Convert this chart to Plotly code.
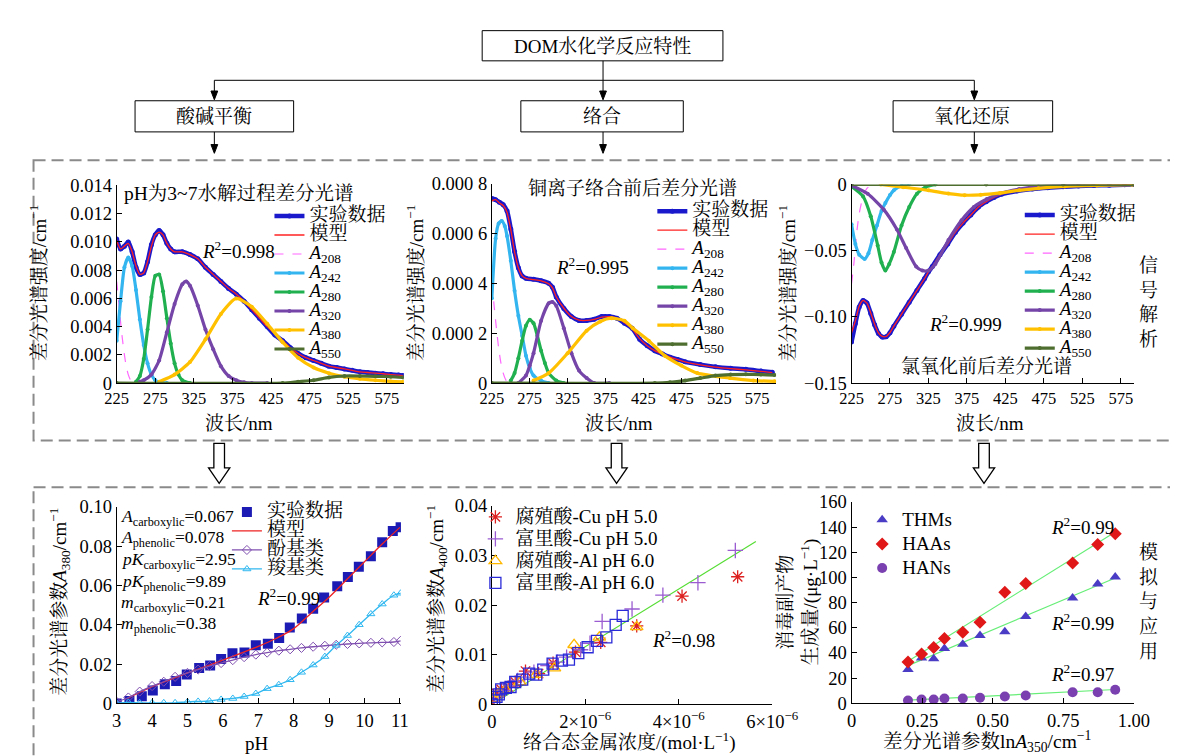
import plotly.graph_objects as go

W, H = 1178, 756
FONT = "Liberation Serif, 'Noto Serif CJK SC', 'Noto Sans CJK SC', serif"

# ---------------- data: top-left (pH 3~7 hydrolysis) ----------------
p1_wl = [225,230,235,240,245,250,255,260,265,270,275,280,285,290,295,300,310,320,330,340,350,360,370,380,390,400,410,420,430,440,450,460,470,480,490,500,510,520,530,540,550,560,570,580,590,596]
p1_exp = [0.0102,0.0095,0.0097,0.0100,0.0093,0.0082,0.0077,0.0078,0.0086,0.0098,0.0105,0.0108,0.0105,0.0099,0.0095,0.0093,0.0093,0.0091,0.0088,0.0082,0.0077,0.0072,0.0067,0.0063,0.0058,0.0052,0.0046,0.0040,0.0034,0.0030,0.0025,0.0021,0.0018,0.0016,0.0014,0.0012,0.0011,0.0010,0.0009,0.0008,0.00075,0.0007,0.00066,0.0006,0.00057,0.00053]
p1_model = [0.0101,0.0095,0.0097,0.0099,0.0093,0.0083,0.0077,0.0078,0.0086,0.0097,0.0105,0.0107,0.0105,0.0099,0.0095,0.0093,0.0093,0.0091,0.0088,0.0082,0.0077,0.0072,0.0067,0.0063,0.0058,0.0052,0.0046,0.0040,0.0035,0.0030,0.0025,0.0021,0.0018,0.0016,0.0014,0.0012,0.0011,0.0010,0.0009,0.0008,0.00075,0.0007,0.00066,0.0006,0.00057,0.00053]
p1_a208_wl = [225,228,231,234,237,240,243,246,250]
p1_a208 = [0.0072,0.0055,0.0038,0.0024,0.0013,0.0006,0.0002,0.00005,0.0]
p1_a242_wl = [225,230,235,240,245,250,255,260,265,270,275,280,285,290]
p1_a242 = [0.0030,0.0058,0.0082,0.0089,0.0083,0.0066,0.0045,0.0027,0.0014,0.0006,0.0002,0.00005,0.0,0.0]
p1_a280_wl = [250,255,260,265,270,275,280,285,290,295,300,305,310,320]
p1_a280 = [0.0001,0.0005,0.0017,0.0038,0.0061,0.0076,0.0077,0.0065,0.0046,0.0028,0.0014,0.0006,0.0002,0.0]
p1_a320_wl = [255,260,270,280,290,300,310,315,320,330,340,350,360,370,380,390,400,420]
p1_a320 = [0.0001,0.0002,0.0006,0.0016,0.0036,0.0056,0.0070,0.0072,0.0069,0.0055,0.0038,0.0024,0.0012,0.0005,0.0002,0.00005,0.0,0.0]
p1_a380_wl = [280,300,320,340,360,380,400,420,440,460,480,500,520,540,560,580,596]
p1_a380 = [0.0001,0.0006,0.0015,0.0031,0.0049,0.0060,0.0054,0.0042,0.0029,0.0018,0.0011,0.0007,0.00045,0.0003,0.0002,0.00012,0.00008]
p1_a550_wl = [225,440,460,480,500,520,540,560,580,596]
p1_a550 = [0.0,0.0,0.0001,0.0002,0.0004,0.0005,0.0005,0.00048,0.00045,0.0004]

# ---------------- data: top-middle (Cu complexation) ----------------
p2_wl = [225,230,235,240,245,250,255,260,265,270,280,290,300,305,310,320,330,340,350,360,370,380,390,400,410,420,430,440,450,460,470,480,500,520,540,560,580,595]
p2_exp = [0.00074,0.000735,0.000725,0.000715,0.00069,0.000618,0.000527,0.000462,0.000429,0.00042,0.000416,0.00041,0.0004,0.000384,0.000345,0.000299,0.000267,0.000251,0.000251,0.000256,0.000267,0.000267,0.00026,0.00024,0.00022,0.000176,0.00015,0.00013,0.000117,0.000104,0.000095,0.000085,0.000074,0.000065,0.000059,0.000055,0.000048,0.000043]
p2_model = [0.00073,0.000735,0.000722,0.000712,0.000685,0.000615,0.000525,0.000462,0.00043,0.00042,0.000415,0.00041,0.000398,0.000382,0.000345,0.0003,0.000267,0.000252,0.000251,0.000255,0.000264,0.000266,0.00026,0.000242,0.000218,0.000178,0.00015,0.00013,0.000116,0.000104,0.000094,0.000085,0.000073,0.000064,0.000058,0.000053,0.000047,0.000042]
p2_a208_wl = [225,228,231,234,237,240,244,248]
p2_a208 = [0.00040,0.00031,0.00022,0.00014,0.00008,0.00004,0.00001,0.0]
p2_a242_wl = [225,230,234,238,242,245,250,255,260,265,270,275,280,290,300]
p2_a242 = [0.00034,0.00058,0.00064,0.00065,0.00063,0.00059,0.00049,0.00037,0.00027,0.00019,0.00011,0.00006,0.00003,0.00001,0.0]
p2_a280_wl = [250,255,260,265,270,275,280,285,290,295,300,310,320]
p2_a280 = [0.00001,0.00004,0.0001,0.00017,0.00023,0.000254,0.00024,0.00019,0.00013,0.00008,0.00004,0.00001,0.0]
p2_a320_wl = [260,270,275,280,290,300,305,310,320,330,340,350,360,380]
p2_a320 = [0.0,0.00003,0.00007,0.00012,0.00025,0.00032,0.000325,0.00031,0.00022,0.00012,0.00005,0.00002,0.0,0.0]
p2_a380_wl = [280,300,325,350,368,383,400,411,432,453,475,496,539,570,598]
p2_a380 = [0.00001,0.00004,0.00012,0.00021,0.000247,0.00026,0.00025,0.00022,0.00017,0.00011,0.00007,0.00004,0.00002,0.00001,0.000007]
p2_a550_wl = [225,440,460,480,500,520,540,560,580,598]
p2_a550 = [0.0,0.0,0.000003,0.00001,0.00002,0.00003,0.000034,0.000035,0.000034,0.000032]

# ---------------- data: top-right (chlorination) ----------------
p3_wl = [225,230,235,240,245,250,255,260,265,270,275,280,290,300,310,320,325,330,340,350,360,370,380,390,400,410,420,440,460,480,500,520,540,560,580,592]
p3_exp = [-0.119,-0.105,-0.0925,-0.0876,-0.0896,-0.0974,-0.106,-0.1125,-0.1152,-0.115,-0.112,-0.107,-0.098,-0.089,-0.080,-0.071,-0.066,-0.062,-0.053,-0.045,-0.036,-0.029,-0.023,-0.017,-0.013,-0.0098,-0.0073,-0.0049,-0.0034,-0.0024,-0.0017,-0.0012,-0.0007,-0.0005,-0.0002,-0.0001]
p3_model = [-0.112,-0.103,-0.092,-0.0876,-0.0896,-0.097,-0.1055,-0.112,-0.1148,-0.1148,-0.1118,-0.107,-0.098,-0.089,-0.080,-0.071,-0.066,-0.062,-0.053,-0.045,-0.036,-0.029,-0.023,-0.017,-0.013,-0.0098,-0.0073,-0.0049,-0.0034,-0.0024,-0.0017,-0.0012,-0.0007,-0.0005,-0.0002,-0.0001]
p3_a208_wl = [225,228,232,235,240,245,250,256]
p3_a208 = [-0.075,-0.060,-0.035,-0.022,-0.009,-0.003,-0.001,0.0]
p3_a242_wl = [225,230,235,242,247,252,258,264,269,275,280,290,300]
p3_a242 = [-0.030,-0.045,-0.053,-0.0563,-0.052,-0.042,-0.031,-0.020,-0.014,-0.008,-0.0044,-0.001,0.0]
p3_a280_wl = [225,240,250,259,264,269,274,280,290,300,310,321,334]
p3_a280 = [-0.0015,-0.009,-0.024,-0.046,-0.059,-0.065,-0.060,-0.051,-0.031,-0.017,-0.007,-0.002,0.0]
p3_a320_wl = [225,246,267,284,296,309,317,325,334,351,368,384,401,418,443,468,502,544]
p3_a320 = [-0.0007,-0.007,-0.019,-0.034,-0.048,-0.062,-0.065,-0.065,-0.060,-0.042,-0.027,-0.017,-0.011,-0.0068,-0.0035,-0.0015,-0.0005,0.0]
p3_a380_wl = [263,292,325,351,372,393,418,443,468,502,544,590]
p3_a380 = [0.0,-0.002,-0.0044,-0.0069,-0.0081,-0.0078,-0.0064,-0.0044,-0.0029,-0.0015,-0.0007,-0.0002]
p3_a550_wl = [225,400,500,592]
p3_a550 = [0.0,0.0,0.0,0.0]

# ---------------- data: bottom-left (pH titration) ----------------
ph_exp = [3.0,3.36,3.71,4.02,4.36,4.68,4.98,5.33,5.64,5.95,6.27,6.61,6.93,7.27,7.59,7.89,8.23,8.55,8.86,9.23,9.53,9.84,10.18,10.5,10.8,11.02]
a380_exp = [0.0,0.0012,0.0036,0.0066,0.0097,0.0114,0.0147,0.018,0.0193,0.0226,0.0255,0.0259,0.0295,0.0303,0.0333,0.0386,0.0432,0.0481,0.0539,0.0596,0.0643,0.0695,0.0748,0.0819,0.0876,0.0896]
ph_model = [3.3,4.0,5.0,6.0,7.0,7.5,8.0,8.5,9.0,9.5,10.0,10.5,11.0]
a380_model = [0.0025,0.0085,0.0155,0.022,0.029,0.033,0.038,0.046,0.054,0.063,0.072,0.081,0.0895]
ph_comp = [3.0,3.33,3.65,4.0,4.33,4.65,5.0,5.3,5.62,5.95,6.28,6.6,6.93,7.25,7.58,7.9,8.22,8.55,8.88,9.2,9.52,9.85,10.18,10.5,10.83,11.02]
phenolic = [0.0008,0.003,0.006,0.0088,0.011,0.0135,0.0155,0.0172,0.019,0.0205,0.022,0.0235,0.0248,0.0258,0.0268,0.0275,0.0282,0.0288,0.0293,0.0298,0.0302,0.0305,0.0308,0.031,0.0312,0.0318]
carboxylic = [0.0,0.0005,0.0003,0.0003,0.0003,0.0003,0.0008,0.001,0.0012,0.002,0.0025,0.0035,0.005,0.0075,0.0095,0.012,0.0158,0.0195,0.0238,0.0295,0.0345,0.04,0.0455,0.0505,0.055,0.056]
ph_params = ["<i>A</i><sub>carboxylic</sub>=0.067", "<i>A</i><sub>phenolic</sub>=0.078",
             "<i>pK</i><sub>carboxylic</sub>=2.95", "<i>pK</i><sub>phenolic</sub>=9.89",
             "<i>m</i><sub>carboxylic</sub>=0.21", "<i>m</i><sub>phenolic</sub>=0.38"]

# ---------------- data: bottom-middle (metal complexation) ----------------
ha_cu_x = [0.0,0.1e-6,0.2e-6,0.35e-6,0.5e-6,0.72e-6,1.0e-6,1.31e-6,1.79e-6,2.33e-6,3.1e-6,4.07e-6,5.26e-6]
ha_cu_y = [0.0005,0.0022,0.003,0.0035,0.0045,0.0067,0.0062,0.0083,0.0105,0.0125,0.0158,0.0218,0.0257]
fa_cu_x = [0.05e-6,0.15e-6,0.25e-6,0.4e-6,0.55e-6,0.7e-6,0.9e-6,1.2e-6,1.4e-6,1.6e-6,1.9e-6,2.1e-6,2.36e-6,3.0e-6,3.66e-6,4.41e-6,5.21e-6]
fa_cu_y = [0.001,0.002,0.0028,0.0038,0.0048,0.0055,0.0065,0.0078,0.0085,0.0095,0.011,0.0123,0.0167,0.0192,0.022,0.0245,0.031]
ha_al_x = [0.05e-6,0.15e-6,0.3e-6,0.6e-6,0.95e-6,1.34e-6,1.76e-6,2.3e-6,3.1e-6]
ha_al_y = [0.001,0.0022,0.003,0.0045,0.006,0.0073,0.012,0.0135,0.0156]
fa_al_x = [0.0,0.05e-6,0.1e-6,0.15e-6,0.2e-6,0.3e-6,0.4e-6,0.5e-6,0.65e-6,0.8e-6,0.95e-6,1.1e-6,1.3e-6,1.5e-6,1.65e-6,1.85e-6,2.05e-6,2.25e-6,2.45e-6,2.65e-6,2.8e-6]
fa_al_y = [0.0,0.0008,0.0015,0.002,0.003,0.0033,0.0035,0.0045,0.005,0.0062,0.006,0.007,0.0082,0.0088,0.009,0.0103,0.0115,0.0128,0.0135,0.016,0.0178]
fit_x = [0.0, 5.65e-6]
fit_y = [0.0, 0.0328]

# ---------------- data: bottom-right (DBPs) ----------------
lnA350 = [0.20,0.248,0.291,0.329,0.394,0.455,0.543,0.617,0.783,0.872,0.934]
thms = [26.8,36.1,35.4,43.6,47.0,53.9,56.8,68.9,83.6,94.7,100.4]
haas = [32.8,39.2,44.4,51.6,56.5,64.5,88.3,95.2,111.5,126.2,134.7]
hans = [2.3,3.1,3.1,3.9,3.9,4.4,5.4,6.2,8.8,8.8,10.8]
fit_ln = [0.20, 0.934]
thms_fit = [30.0, 99.5]
haas_fit = [33.5, 136.0]
hans_fit = [2.5, 11.0]

# ---------------- helpers ----------------
def PX(x): return x / W
def PY(y): return 1 - y / H

def big(t, size=19):
    return '<span style="font-size:%dpx">%s</span>' % (size, t)

fig = go.Figure()

def comp(x, y, name, color, xa, ya, leg, width=3, msize=3, dash=None, mode='lines+markers'):
    fig.add_trace(go.Scatter(x=x, y=y, name=big(name), mode=mode, xaxis=xa, yaxis=ya, legend=leg,
                             line=dict(color=color, width=width, shape='spline', smoothing=0.6, dash=dash),
                             marker=dict(size=msize, color=color)))

SUBN = lambda n: "<i>A</i><sub>%s</sub>" % n
C_EXP, C_MOD, C208, C242, C280, C320, C380, C550 = '#1a1acc', '#ff2222', '#ff66ff', '#33b5f0', '#20b050', '#7545a8', '#ffc000', '#4e6e30'

# top plots
for (wl, ex, mo, comps, xa, ya, leg) in [
    (p1_wl, p1_exp, p1_model, [(p1_a208_wl, p1_a208), (p1_a242_wl, p1_a242), (p1_a280_wl, p1_a280), (p1_a320_wl, p1_a320), (p1_a380_wl, p1_a380), (p1_a550_wl, p1_a550)], 'x', 'y', 'legend'),
    (p2_wl, p2_exp, p2_model, [(p2_a208_wl, p2_a208), (p2_a242_wl, p2_a242), (p2_a280_wl, p2_a280), (p2_a320_wl, p2_a320), (p2_a380_wl, p2_a380), (p2_a550_wl, p2_a550)], 'x2', 'y2', 'legend2'),
    (p3_wl, p3_exp, p3_model, [(p3_a208_wl, p3_a208), (p3_a242_wl, p3_a242), (p3_a280_wl, p3_a280), (p3_a320_wl, p3_a320), (p3_a380_wl, p3_a380), (p3_a550_wl, p3_a550)], 'x3', 'y3', 'legend3')]:
    comp(wl, ex, "实验数据", C_EXP, xa, ya, leg, width=4.5, msize=5)
    comp(wl, mo, "模型", C_MOD, xa, ya, leg, width=1.3, mode='lines')
    names = ["208", "242", "280", "320", "380", "550"]
    cols = [C208, C242, C280, C320, C380, C550]
    for i, ((cx, cy), n, c) in enumerate(zip(comps, names, cols)):
        if i == 0:
            comp(cx, cy, SUBN(n), c, xa, ya, leg, width=1.2, dash='dash', mode='lines')
        else:
            comp(cx, cy, SUBN(n), c, xa, ya, leg, width=3.2, msize=4)

# bottom-left
fig.add_trace(go.Scatter(x=ph_exp, y=a380_exp, name=big("实验数据"), mode='markers', xaxis='x4', yaxis='y4', legend='legend4',
                         marker=dict(symbol='square', size=10, color='#1c1cb4')))
fig.add_trace(go.Scatter(x=ph_model, y=a380_model, name=big("模型"), mode='lines', xaxis='x4', yaxis='y4', legend='legend4',
                         line=dict(color='#ee2222', width=1.3, shape='spline')))
fig.add_trace(go.Scatter(x=ph_comp, y=phenolic, name=big("酚基类"), mode='lines+markers', xaxis='x4', yaxis='y4', legend='legend4',
                         line=dict(color='#8050b0', width=1.3, shape='spline'),
                         marker=dict(symbol='diamond-open', size=7, color='#8050b0')))
fig.add_trace(go.Scatter(x=ph_comp, y=carboxylic, name=big("羧基类"), mode='lines+markers', xaxis='x4', yaxis='y4', legend='legend4',
                         line=dict(color='#30b8f0', width=1.3, shape='spline'),
                         marker=dict(symbol='triangle-up-open', size=7, color='#30b8f0')))

# bottom-middle
fig.add_trace(go.Scatter(x=fit_x, y=fit_y, mode='lines', xaxis='x5', yaxis='y5', showlegend=False,
                         line=dict(color='#55dd33', width=1.2)))
for (xx, yy, nm, sym, col) in [(ha_cu_x, ha_cu_y, "腐殖酸-Cu pH 5.0", 'asterisk-open', '#dd2020'),
                               (fa_cu_x, fa_cu_y, "富里酸-Cu pH 5.0", 'cross-thin-open', '#9a5cd0'),
                               (ha_al_x, ha_al_y, "腐殖酸-Al pH 6.0", 'triangle-up-open', '#ffb800'),
                               (fa_al_x, fa_al_y, "富里酸-Al pH 6.0", 'square-open', '#2a2ad8')]:
    fig.add_trace(go.Scatter(x=xx, y=yy, name=big(nm), mode='markers', xaxis='x5', yaxis='y5', legend='legend5',
                             marker=dict(symbol=sym, size=11, color=col, line=dict(width=1.3, color=col))))

# bottom-right
for fy in [thms_fit, haas_fit, hans_fit]:
    fig.add_trace(go.Scatter(x=fit_ln, y=fy, mode='lines', xaxis='x6', yaxis='y6', showlegend=False,
                             line=dict(color='#66ee77', width=1.2)))
for (yy, nm, sym, col) in [(thms, "THMs", 'triangle-up', '#4a3cc4'), (haas, "HAAs", 'diamond', '#e01818'), (hans, "HANs", 'circle', '#7a40b0')]:
    fig.add_trace(go.Scatter(x=lnA350, y=yy, name=big(nm), mode='markers', xaxis='x6', yaxis='y6', legend='legend6',
                             marker=dict(symbol=sym, size=10, color=col)))

# ---------------- axes ----------------
def axis(dom, rng, anchor, tickvals, ticktext, size=18.5):
    return dict(domain=dom, range=rng, anchor=anchor, showline=True, linecolor='black', linewidth=1,
                ticks='inside', ticklen=5, tickcolor='black', showgrid=False, zeroline=False,
                tickmode='array', tickvals=tickvals, ticktext=ticktext,
                tickfont=dict(family=FONT, size=size, color='black'))

wl_ticks = [225, 275, 325, 375, 425, 475, 525, 575]
wl_text = [str(t) for t in wl_ticks]
lay = dict(
    xaxis=axis([PX(100), PX(397)], [225, 597], 'y', wl_ticks, wl_text, 16.5),
    yaxis=axis([PY(375), PY(172)], [0, 0.014], 'x', [0, 0.002, 0.004, 0.006, 0.008, 0.010, 0.012, 0.014],
               ["0", "0.002", "0.004", "0.006", "0.008", "0.010", "0.012", "0.014"]),
    xaxis2=axis([PX(488), PX(782)], [225, 600], 'y2', wl_ticks, wl_text, 16.5),
    yaxis2=axis([PY(375), PY(170)], [0, 0.0008], 'x2', [0, 0.0002, 0.0004, 0.0006, 0.0008],
                ["0", "0.000 2", "0.000 4", "0.000 6", "0.000 8"]),
    xaxis3=axis([PX(860), PX(1152)], [225, 592], 'y3', wl_ticks, wl_text, 16.5),
    yaxis3=axis([PY(375), PY(171)], [-0.15, 0], 'x3', [0, -0.05, -0.10, -0.15], ["0", "−0.05", "−0.10", "−0.15"]),
    xaxis4=axis([PX(100), PX(394)], [3, 11.03], 'y4', list(range(3, 12)), [str(v) for v in range(3, 12)]),
    yaxis4=axis([PY(704), PY(502)], [0, 0.10], 'x4', [0, 0.02, 0.04, 0.06, 0.08, 0.10], ["0", "0.02", "0.04", "0.06", "0.08", "0.10"]),
    xaxis5=axis([PX(488), PX(778)], [0, 6e-6], 'y5', [0, 2e-6, 4e-6, 6e-6],
                ["0", "2×10<sup>−6</sup>", "4×10<sup>−6</sup>", "6×10<sup>−6</sup>"]),
    yaxis5=axis([PY(705), PY(501)], [0, 0.04], 'x5', [0, 0.01, 0.02, 0.03, 0.04], ["0", "0.01", "0.02", "0.03", "0.04"]),
    xaxis6=axis([PX(860), PX(1152)], [0, 1.0], 'y6', [0, 0.25, 0.5, 0.75, 1.0], ["0", "0.25", "0.50", "0.75", "1.00"]),
    yaxis6=axis([PY(704), PY(497)], [0, 160], 'x6', list(range(0, 161, 20)), [str(v) for v in range(0, 161, 20)]),
)

# legend font size controls row spacing (≈1.3*size+3 px); displayed text size is set by the span
def legend(lx, first_center_y, size):
    h = max(1.3 * size, 16) + 3
    return dict(x=PX(lx), y=PY(first_center_y - h / 2 - 10), xanchor='left', yanchor='top',
                bgcolor='rgba(0,0,0,0)', borderwidth=0, tracegroupgap=0, itemwidth=30,
                font=dict(family=FONT, size=size, color='black'))

lay.update(legend=legend(258, 208, 12.3), legend2=legend(654, 203, 12.3), legend3=legend(1034, 207, 12.0),
           legend4=legend(214, 512, 12), legend5=legend(471, 517, 14.6), legend6=legend(871, 520, 16.2))

# ---------------- annotations ----------------
ann = []
def T(x, y, text, size=19, angle=0, xanchor='center', yanchor='middle', align='center'):
    ann.append(dict(x=PX(x), y=PY(y), xref='paper', yref='paper', text=text, showarrow=False,
                    textangle=angle, xanchor=xanchor, yanchor=yanchor, align=align,
                    font=dict(family=FONT, size=size, color='black')))

# flowchart text
T(602, 29, "DOM水化学反应特性", 19)
T(201, 101, "酸碱平衡", 19)
T(602, 101, "络合", 19)
T(985, 101, "氧化还原", 19)
# top plot texts
T(226, 180, "pH为3~7水解过程差分光谱", 19.5)
T(633, 175, "铜离子络合前后差分光谱", 19)
T(1000, 358, "氯氧化前后差分光谱", 19)
T(226, 238, "<i>R</i><sup>2</sup>=0.998", 19)
T(592, 255, "<i>R</i><sup>2</sup>=0.995", 19)
T(978, 313, "<i>R</i><sup>2</sup>=0.999", 19)
for xx in (18, 408, 793):
    T(xx, 272, "差分光谱强度/cm<sup>−1</sup>", 19, angle=-90)
for xx in (226, 620, 1003):
    T(xx, 417, "波长/nm", 19)
T(1167, 292, "信<br>号<br>解<br>析", 19)
T(1168, 600, "模<br>拟<br>与<br>应<br>用", 19)
# bottom texts
for i, t in enumerate(ph_params):
    T(102, [513, 535, 557, 580, 601, 623][i], t, 17.5, xanchor='left')
T(278, 595, "<i>R</i><sup>2</sup>=0.99", 19)
T(40, 600, "差分光谱参数<i>A</i><sub>380</sub>/cm<sup>−1</sup>", 19, angle=-90)
T(245, 745, "pH", 19)
T(686, 638, "<i>R</i><sup>2</sup>=0.98", 19)
T(430, 597, "差分光谱参数<i>A</i><sub>400</sub>/cm<sup>−1</sup>", 19, angle=-90)
T(630, 743, "络合态金属浓度/(mol·L<sup>−1</sup>)", 19)
T(1099, 522, "<i>R</i><sup>2</sup>=0.99", 19)
T(1099, 620, "<i>R</i><sup>2</sup>=0.99", 19)
T(1099, 673, "<i>R</i><sup>2</sup>=0.97", 19)
T(805, 600, "消毒副产物<br>生成量/(μg·L<sup>−1</sup>)", 19, angle=-90)
T(1000, 743, "差分光谱参数ln<i>A</i><sub>350</sub>/cm<sup>−1</sup>", 19.5)

# ---------------- shapes ----------------
shapes = []
def rect(x0, y0, x1, y1, dash=None, color='black', width=1):
    shapes.append(dict(type='rect', xref='paper', yref='paper', x0=PX(x0), x1=PX(x1), y0=PY(y0), y1=PY(y1),
                       line=dict(color=color, width=width, dash=dash), fillcolor='rgba(0,0,0,0)', layer='below'))
def line(x0, y0, x1, y1, color='black', width=1):
    shapes.append(dict(type='line', xref='paper', yref='paper', x0=PX(x0), x1=PX(x1), y0=PY(y0), y1=PY(y1),
                       line=dict(color=color, width=width)))
def path(pts, fill='black', lw=1):
    d = "M " + " L ".join("%f,%f" % (PX(a), PY(b)) for a, b in pts) + " Z"
    shapes.append(dict(type='path', xref='paper', yref='paper', path=d, fillcolor=fill,
                       line=dict(color='black', width=lw)))
def arrow_down(x, y0, tip):
    line(x, y0, x, tip - 7)
    path([(x - 3.5, tip - 9), (x + 3.5, tip - 9), (x, tip)])

rect(478, 13, 727, 44)
rect(119, 85, 283, 117)
rect(518, 85, 686, 117)
rect(903, 85, 1068, 117)
line(603, 44, 603, 64)
line(201, 64, 987, 64)
for xx in (201, 603, 987):
    arrow_down(xx, 64, 84)
    arrow_down(xx, 117, 139)
rect(14, 146, 1210, 434, dash='12px,6px', color='#8a8a8a', width=2)
rect(14, 482, 1210, 800, dash='12px,6px', color='#8a8a8a', width=2)
for xx in (206, 617, 997):
    path([(xx - 5.5, 437), (xx + 5.5, 437), (xx + 5.5, 462), (xx + 11, 462), (xx, 478), (xx - 11, 462), (xx - 5.5, 462)],
         fill='white', lw=1.3)

fig.update_layout(**lay)
fig.update_layout(width=W, height=H, margin=dict(l=0, r=0, t=0, b=0), plot_bgcolor='white', paper_bgcolor='white',
                  showlegend=True, annotations=ann, shapes=shapes, font=dict(family=FONT, color='black'))
fig.write_html("out.html")
